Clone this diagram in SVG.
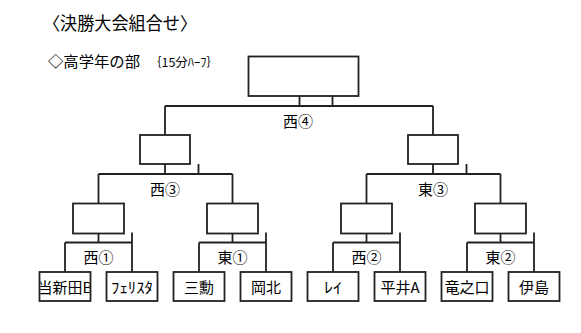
<svg xmlns="http://www.w3.org/2000/svg" width="581" height="333" viewBox="0 0 581 333">
<style>
text{font-family:"Noto Sans CJK JP","Liberation Sans",sans-serif;fill:#000;}
.box{fill:#fff;stroke:#222;stroke-width:1.8;}
.ln{fill:none;stroke:#222;stroke-width:1.8;}
.lbl{font-size:15px;text-anchor:middle;}
.team{font-size:15px;text-anchor:middle;}
</style>
<defs>
<clipPath id="clipA"><rect x="40.4" y="272" width="49.2" height="29"/></clipPath>
</defs>
<text x="43" y="30" font-size="18" textLength="154" lengthAdjust="spacingAndGlyphs">〈決勝大会組合せ〉</text>
<text x="48" y="67" font-size="15" textLength="92" lengthAdjust="spacingAndGlyphs">◇高学年の部</text>
<text x="149" y="67" font-size="12" textLength="70" lengthAdjust="spacingAndGlyphs">｛15分ﾊｰﾌ｝</text>
<g id="connectors">
<path class="ln" d="M299.5 96V106M332.5 96V106M165 106H433M165 106V135M433 106V135"/>
<path class="ln" d="M165 164V174M198.5 164V174M98.5 174H232.5M98.5 174V203.5M232.5 174V203.5"/>
<path class="ln" d="M433 164V174M466.5 164V174M366.5 174H500.5M366.5 174V203.5M500.5 174V203.5"/>
<path class="ln" d="M98.5 233.5V242.5M65 242.5H132M65 242.5V272M132 232.5V272"/>
<path class="ln" d="M232.5 233.5V242.5M199 242.5H266M199 242.5V272M266 232.5V272"/>
<path class="ln" d="M366.5 233.5V242.5M333 242.5H400M333 242.5V272M400 232.5V272"/>
<path class="ln" d="M500.5 233.5V242.5M467 242.5H534M467 242.5V272M534 232.5V272"/>
</g>
<g id="final"><rect class="box" x="248.5" y="56.5" width="110" height="39.5"/></g>
<g id="semi-west"><rect class="box" x="140" y="135" width="50" height="29"/></g>
<g id="semi-east"><rect class="box" x="408" y="135" width="50" height="29"/></g>
<g id="qf1"><rect class="box" x="73" y="203.5" width="51" height="30"/></g>
<g id="qf2"><rect class="box" x="207" y="203.5" width="51" height="30"/></g>
<g id="qf3"><rect class="box" x="341" y="203.5" width="51" height="30"/></g>
<g id="qf4"><rect class="box" x="475" y="203.5" width="51" height="30"/></g>
<g id="labels">
<text class="lbl" x="298" y="127">西④</text>
<text class="lbl" x="165" y="195">西③</text>
<text class="lbl" x="433" y="195">東③</text>
<text class="lbl" x="98.5" y="263">西①</text>
<text class="lbl" x="232.5" y="263">東①</text>
<text class="lbl" x="366.5" y="263">西②</text>
<text class="lbl" x="500.5" y="263">東②</text>
</g>
<g id="team-toushinden"><rect class="box" x="39.5" y="272" width="51" height="29"/><text class="team" x="65" y="293" clip-path="url(#clipA)">当新田B</text></g>
<g id="team-ferista"><rect class="box" x="106.5" y="272" width="51" height="29"/><text class="team" x="132" y="293" font-size="17" textLength="42" lengthAdjust="spacingAndGlyphs">ﾌｪﾘｽﾀ</text></g>
<g id="team-mikunugi"><rect class="box" x="173.5" y="272" width="51" height="29"/><text class="team" x="199" y="293">三勳</text></g>
<g id="team-okakita"><rect class="box" x="240.5" y="272" width="51" height="29"/><text class="team" x="266" y="293">岡北</text></g>
<g id="team-rei"><rect class="box" x="307.5" y="272" width="51" height="29"/><text class="team" x="333" y="293" font-size="17" textLength="18" lengthAdjust="spacingAndGlyphs">ﾚｲ</text></g>
<g id="team-hirai"><rect class="box" x="374.5" y="272" width="51" height="29"/><text class="team" x="400" y="293">平井A</text></g>
<g id="team-ryunokuchi"><rect class="box" x="441.5" y="272" width="51" height="29"/><text class="team" x="467" y="293">竜之口</text></g>
<g id="team-ijima"><rect class="box" x="508.5" y="272" width="51" height="29"/><text class="team" x="534" y="293">伊島</text></g>
</svg>
